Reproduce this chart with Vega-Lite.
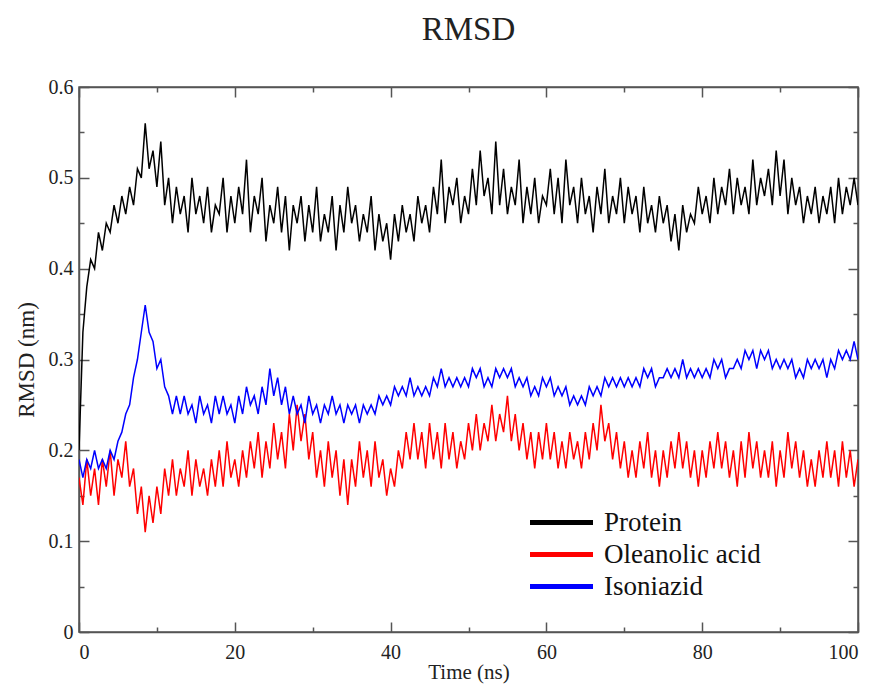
{
  "$schema": "https://vega.github.io/schema/vega-lite/v6.json",
  "width": 779,
  "height": 545,
  "autosize": {"type": "none"},
  "padding": {"left": 79, "top": 87, "right": 20, "bottom": 53},
  "background": "white",
  "title": {"text": "RMSD", "font": "Liberation Serif", "fontSize": 33, "fontWeight": "normal", "color": "#222", "offset": 30, "anchor": "middle"},
  "config": {"view": {"stroke": "#555", "strokeWidth": 1.5}, "font": "Liberation Serif"},
  "data": {"values": [
    {"t":0,"P":0.20,"O":0.17,"I":0.19},{"t":0.5,"P":0.33,"O":0.14,"I":0.17},{"t":1,"P":0.38,"O":0.19,"I":0.19},{"t":1.5,"P":0.41,"O":0.15,"I":0.18},
    {"t":2,"P":0.40,"O":0.18,"I":0.20},{"t":2.5,"P":0.44,"O":0.14,"I":0.18},{"t":3,"P":0.42,"O":0.19,"I":0.19},{"t":3.5,"P":0.45,"O":0.16,"I":0.18},
    {"t":4,"P":0.44,"O":0.20,"I":0.20},{"t":4.5,"P":0.47,"O":0.15,"I":0.19},{"t":5,"P":0.45,"O":0.19,"I":0.21},{"t":5.5,"P":0.48,"O":0.17,"I":0.22},
    {"t":6,"P":0.46,"O":0.21,"I":0.24},{"t":6.5,"P":0.49,"O":0.16,"I":0.25},{"t":7,"P":0.47,"O":0.18,"I":0.28},{"t":7.5,"P":0.51,"O":0.13,"I":0.30},
    {"t":8,"P":0.50,"O":0.16,"I":0.33},{"t":8.5,"P":0.56,"O":0.11,"I":0.36},{"t":9,"P":0.51,"O":0.15,"I":0.33},{"t":9.5,"P":0.53,"O":0.12,"I":0.32},
    {"t":10,"P":0.49,"O":0.16,"I":0.29},{"t":10.5,"P":0.54,"O":0.13,"I":0.30},{"t":11,"P":0.47,"O":0.18,"I":0.27},{"t":11.5,"P":0.50,"O":0.15,"I":0.26},
    {"t":12,"P":0.45,"O":0.19,"I":0.24},{"t":12.5,"P":0.49,"O":0.15,"I":0.26},{"t":13,"P":0.46,"O":0.18,"I":0.24},{"t":13.5,"P":0.48,"O":0.16,"I":0.26},
    {"t":14,"P":0.44,"O":0.20,"I":0.24},{"t":14.5,"P":0.50,"O":0.15,"I":0.25},{"t":15,"P":0.46,"O":0.19,"I":0.23},{"t":15.5,"P":0.48,"O":0.16,"I":0.26},
    {"t":16,"P":0.45,"O":0.18,"I":0.24},{"t":16.5,"P":0.49,"O":0.15,"I":0.25},{"t":17,"P":0.44,"O":0.19,"I":0.23},{"t":17.5,"P":0.47,"O":0.16,"I":0.26},
    {"t":18,"P":0.46,"O":0.20,"I":0.24},{"t":18.5,"P":0.50,"O":0.16,"I":0.26},{"t":19,"P":0.44,"O":0.21,"I":0.24},{"t":19.5,"P":0.48,"O":0.17,"I":0.25},
    {"t":20,"P":0.45,"O":0.19,"I":0.23},{"t":20.5,"P":0.49,"O":0.16,"I":0.26},{"t":21,"P":0.46,"O":0.20,"I":0.24},{"t":21.5,"P":0.52,"O":0.17,"I":0.27},
    {"t":22,"P":0.44,"O":0.21,"I":0.25},{"t":22.5,"P":0.48,"O":0.18,"I":0.26},{"t":23,"P":0.46,"O":0.22,"I":0.24},{"t":23.5,"P":0.50,"O":0.17,"I":0.27},
    {"t":24,"P":0.43,"O":0.21,"I":0.25},{"t":24.5,"P":0.47,"O":0.18,"I":0.29},{"t":25,"P":0.45,"O":0.23,"I":0.26},{"t":25.5,"P":0.49,"O":0.19,"I":0.28},
    {"t":26,"P":0.44,"O":0.22,"I":0.25},{"t":26.5,"P":0.48,"O":0.18,"I":0.27},{"t":27,"P":0.42,"O":0.24,"I":0.24},{"t":27.5,"P":0.47,"O":0.20,"I":0.26},
    {"t":28,"P":0.45,"O":0.25,"I":0.24},{"t":28.5,"P":0.48,"O":0.21,"I":0.25},{"t":29,"P":0.43,"O":0.24,"I":0.23},{"t":29.5,"P":0.47,"O":0.19,"I":0.26},
    {"t":30,"P":0.44,"O":0.22,"I":0.24},{"t":30.5,"P":0.49,"O":0.17,"I":0.25},{"t":31,"P":0.43,"O":0.20,"I":0.23},{"t":31.5,"P":0.46,"O":0.16,"I":0.25},
    {"t":32,"P":0.44,"O":0.21,"I":0.24},{"t":32.5,"P":0.48,"O":0.17,"I":0.26},{"t":33,"P":0.42,"O":0.20,"I":0.24},{"t":33.5,"P":0.47,"O":0.15,"I":0.25},
    {"t":34,"P":0.44,"O":0.19,"I":0.23},{"t":34.5,"P":0.49,"O":0.14,"I":0.25},{"t":35,"P":0.45,"O":0.19,"I":0.24},{"t":35.5,"P":0.47,"O":0.16,"I":0.25},
    {"t":36,"P":0.43,"O":0.21,"I":0.23},{"t":36.5,"P":0.46,"O":0.17,"I":0.25},{"t":37,"P":0.44,"O":0.20,"I":0.24},{"t":37.5,"P":0.48,"O":0.16,"I":0.25},
    {"t":38,"P":0.42,"O":0.21,"I":0.24},{"t":38.5,"P":0.46,"O":0.17,"I":0.26},{"t":39,"P":0.43,"O":0.19,"I":0.25},{"t":39.5,"P":0.45,"O":0.15,"I":0.26},
    {"t":40,"P":0.41,"O":0.18,"I":0.25},{"t":40.5,"P":0.46,"O":0.16,"I":0.27},{"t":41,"P":0.43,"O":0.20,"I":0.26},{"t":41.5,"P":0.47,"O":0.18,"I":0.27},
    {"t":42,"P":0.44,"O":0.22,"I":0.26},{"t":42.5,"P":0.46,"O":0.19,"I":0.28},{"t":43,"P":0.43,"O":0.23,"I":0.26},{"t":43.5,"P":0.48,"O":0.19,"I":0.27},
    {"t":44,"P":0.45,"O":0.22,"I":0.26},{"t":44.5,"P":0.47,"O":0.18,"I":0.27},{"t":45,"P":0.44,"O":0.23,"I":0.26},{"t":45.5,"P":0.49,"O":0.19,"I":0.28},
    {"t":46,"P":0.46,"O":0.22,"I":0.27},{"t":46.5,"P":0.52,"O":0.18,"I":0.29},{"t":47,"P":0.45,"O":0.23,"I":0.27},{"t":47.5,"P":0.49,"O":0.19,"I":0.28},
    {"t":48,"P":0.47,"O":0.22,"I":0.27},{"t":48.5,"P":0.50,"O":0.18,"I":0.28},{"t":49,"P":0.45,"O":0.21,"I":0.27},{"t":49.5,"P":0.48,"O":0.19,"I":0.28},
    {"t":50,"P":0.46,"O":0.23,"I":0.27},{"t":50.5,"P":0.51,"O":0.20,"I":0.29},{"t":51,"P":0.47,"O":0.24,"I":0.28},{"t":51.5,"P":0.53,"O":0.20,"I":0.29},
    {"t":52,"P":0.48,"O":0.23,"I":0.27},{"t":52.5,"P":0.50,"O":0.21,"I":0.28},{"t":53,"P":0.46,"O":0.25,"I":0.27},{"t":53.5,"P":0.54,"O":0.21,"I":0.29},
    {"t":54,"P":0.47,"O":0.24,"I":0.28},{"t":54.5,"P":0.51,"O":0.22,"I":0.29},{"t":55,"P":0.46,"O":0.26,"I":0.28},{"t":55.5,"P":0.49,"O":0.21,"I":0.29},
    {"t":56,"P":0.47,"O":0.24,"I":0.27},{"t":56.5,"P":0.52,"O":0.20,"I":0.28},{"t":57,"P":0.45,"O":0.23,"I":0.27},{"t":57.5,"P":0.49,"O":0.19,"I":0.28},
    {"t":58,"P":0.46,"O":0.22,"I":0.26},{"t":58.5,"P":0.50,"O":0.18,"I":0.27},{"t":59,"P":0.45,"O":0.22,"I":0.26},{"t":59.5,"P":0.48,"O":0.19,"I":0.28},
    {"t":60,"P":0.47,"O":0.23,"I":0.27},{"t":60.5,"P":0.51,"O":0.19,"I":0.28},{"t":61,"P":0.46,"O":0.22,"I":0.26},{"t":61.5,"P":0.50,"O":0.18,"I":0.27},
    {"t":62,"P":0.45,"O":0.21,"I":0.26},{"t":62.5,"P":0.52,"O":0.18,"I":0.27},{"t":63,"P":0.47,"O":0.22,"I":0.25},{"t":63.5,"P":0.49,"O":0.19,"I":0.26},
    {"t":64,"P":0.45,"O":0.21,"I":0.25},{"t":64.5,"P":0.50,"O":0.18,"I":0.26},{"t":65,"P":0.46,"O":0.22,"I":0.25},{"t":65.5,"P":0.48,"O":0.19,"I":0.27},
    {"t":66,"P":0.44,"O":0.23,"I":0.26},{"t":66.5,"P":0.49,"O":0.20,"I":0.27},{"t":67,"P":0.46,"O":0.25,"I":0.26},{"t":67.5,"P":0.51,"O":0.21,"I":0.28},
    {"t":68,"P":0.45,"O":0.23,"I":0.27},{"t":68.5,"P":0.48,"O":0.19,"I":0.28},{"t":69,"P":0.46,"O":0.22,"I":0.27},{"t":69.5,"P":0.50,"O":0.18,"I":0.28},
    {"t":70,"P":0.45,"O":0.21,"I":0.27},{"t":70.5,"P":0.49,"O":0.17,"I":0.28},{"t":71,"P":0.46,"O":0.20,"I":0.27},{"t":71.5,"P":0.48,"O":0.17,"I":0.28},
    {"t":72,"P":0.44,"O":0.21,"I":0.27},{"t":72.5,"P":0.49,"O":0.18,"I":0.29},{"t":73,"P":0.45,"O":0.22,"I":0.28},{"t":73.5,"P":0.47,"O":0.17,"I":0.29},
    {"t":74,"P":0.44,"O":0.20,"I":0.27},{"t":74.5,"P":0.48,"O":0.16,"I":0.28},{"t":75,"P":0.45,"O":0.20,"I":0.28},{"t":75.5,"P":0.47,"O":0.17,"I":0.29},
    {"t":76,"P":0.43,"O":0.21,"I":0.28},{"t":76.5,"P":0.46,"O":0.18,"I":0.29},{"t":77,"P":0.42,"O":0.22,"I":0.28},{"t":77.5,"P":0.47,"O":0.18,"I":0.30},
    {"t":78,"P":0.44,"O":0.21,"I":0.28},{"t":78.5,"P":0.46,"O":0.17,"I":0.29},{"t":79,"P":0.45,"O":0.20,"I":0.28},{"t":79.5,"P":0.49,"O":0.16,"I":0.29},
    {"t":80,"P":0.46,"O":0.20,"I":0.28},{"t":80.5,"P":0.48,"O":0.17,"I":0.29},{"t":81,"P":0.45,"O":0.21,"I":0.28},{"t":81.5,"P":0.50,"O":0.18,"I":0.30},
    {"t":82,"P":0.46,"O":0.22,"I":0.29},{"t":82.5,"P":0.49,"O":0.18,"I":0.30},{"t":83,"P":0.47,"O":0.21,"I":0.28},{"t":83.5,"P":0.51,"O":0.17,"I":0.29},
    {"t":84,"P":0.46,"O":0.20,"I":0.29},{"t":84.5,"P":0.50,"O":0.16,"I":0.30},{"t":85,"P":0.47,"O":0.21,"I":0.29},{"t":85.5,"P":0.49,"O":0.17,"I":0.31},
    {"t":86,"P":0.46,"O":0.22,"I":0.30},{"t":86.5,"P":0.52,"O":0.18,"I":0.31},{"t":87,"P":0.47,"O":0.21,"I":0.29},{"t":87.5,"P":0.50,"O":0.17,"I":0.31},
    {"t":88,"P":0.48,"O":0.20,"I":0.30},{"t":88.5,"P":0.51,"O":0.17,"I":0.31},{"t":89,"P":0.47,"O":0.21,"I":0.29},{"t":89.5,"P":0.53,"O":0.16,"I":0.30},
    {"t":90,"P":0.48,"O":0.20,"I":0.29},{"t":90.5,"P":0.52,"O":0.17,"I":0.30},{"t":91,"P":0.46,"O":0.22,"I":0.29},{"t":91.5,"P":0.50,"O":0.18,"I":0.30},
    {"t":92,"P":0.47,"O":0.21,"I":0.28},{"t":92.5,"P":0.49,"O":0.17,"I":0.29},{"t":93,"P":0.45,"O":0.20,"I":0.28},{"t":93.5,"P":0.48,"O":0.16,"I":0.30},
    {"t":94,"P":0.46,"O":0.19,"I":0.29},{"t":94.5,"P":0.49,"O":0.16,"I":0.30},{"t":95,"P":0.45,"O":0.20,"I":0.29},{"t":95.5,"P":0.48,"O":0.17,"I":0.30},
    {"t":96,"P":0.46,"O":0.21,"I":0.28},{"t":96.5,"P":0.49,"O":0.17,"I":0.30},{"t":97,"P":0.45,"O":0.20,"I":0.29},{"t":97.5,"P":0.50,"O":0.16,"I":0.31},
    {"t":98,"P":0.46,"O":0.21,"I":0.30},{"t":98.5,"P":0.49,"O":0.17,"I":0.31},{"t":99,"P":0.47,"O":0.20,"I":0.30},{"t":99.5,"P":0.50,"O":0.16,"I":0.32},
    {"t":100,"P":0.47,"O":0.19,"I":0.30}
  ]},
  "resolve": {"axis": {"x": "independent", "y": "independent"}},
  "layer": [
    {
      "mark": {"type": "line", "strokeWidth": 1.5, "clip": true},
      "encoding": {
        "x": {"field": "t", "type": "quantitative", "scale": {"domain": [0, 100], "nice": false},
          "axis": {"orient": "bottom", "values": [0,10,20,30,40,50,60,70,80,90,100], "grid": false,
            "labelExpr": "datum.value % 20 === 0 ? datum.label : ''",
            "tickSize": {"condition": {"test": "datum.value % 20 === 0", "value": -10}, "value": -5},
            "tickColor": "#555", "tickWidth": 1.5, "domainColor": "#555", "domainWidth": 1.5,
            "labelFont": "Liberation Serif", "labelFontSize": 20, "labelColor": "#222", "labelPadding": 20,
            "title": "Time (ns)", "titleFont": "Liberation Serif", "titleFontSize": 21, "titleFontWeight": "normal", "titleColor": "#222", "titlePadding": -1}},
        "y": {"field": "P", "type": "quantitative", "scale": {"domain": [0, 0.6], "nice": false},
          "axis": {"orient": "left", "values": [0,0.05,0.1,0.15,0.2,0.25,0.3,0.35,0.4,0.45,0.5,0.55,0.6], "grid": false,
            "labelExpr": "abs(datum.value*10 - round(datum.value*10)) < 0.01 ? format(datum.value, '~g') : ''",
            "tickSize": {"condition": {"test": "abs(datum.value*10 - round(datum.value*10)) < 0.01", "value": -10}, "value": -5},
            "tickColor": "#555", "tickWidth": 1.5, "domainColor": "#555", "domainWidth": 1.5,
            "labelFont": "Liberation Serif", "labelFontSize": 20, "labelColor": "#222", "labelPadding": 16,
            "title": "RMSD (nm)", "titleFont": "Liberation Serif", "titleFontSize": 23, "titleFontWeight": "normal", "titleColor": "#222", "titlePadding": 10}},
        "color": {"datum": "Protein", "type": "nominal",
          "scale": {"domain": ["Protein", "Oleanolic acid", "Isoniazid"], "range": ["#000000", "#ff0000", "#0000ff"]},
          "legend": {"orient": "none", "legendX": 469, "legendY": 422, "direction": "vertical", "title": null,
            "symbolType": "M-3,0H3", "symbolSize": 441, "symbolStrokeWidth": 5, "symbolFillColor": "transparent", "rowPadding": 4,
            "labelFont": "Liberation Serif", "labelFontSize": 27, "labelColor": "#111", "labelOffset": 29}}
      }
    },
    {
      "mark": {"type": "line", "strokeWidth": 1.5, "clip": true},
      "encoding": {
        "x": {"field": "t", "type": "quantitative",
          "axis": {"orient": "top", "values": [0,10,20,30,40,50,60,70,80,90,100], "grid": false, "labels": false, "title": null,
            "tickSize": {"condition": {"test": "datum.value % 20 === 0", "value": -10}, "value": -5},
            "tickColor": "#555", "tickWidth": 1.5, "domainColor": "#555", "domainWidth": 1.5}},
        "y": {"field": "O", "type": "quantitative",
          "axis": {"orient": "right", "values": [0,0.05,0.1,0.15,0.2,0.25,0.3,0.35,0.4,0.45,0.5,0.55,0.6], "grid": false, "labels": false, "title": null,
            "tickSize": {"condition": {"test": "abs(datum.value*10 - round(datum.value*10)) < 0.01", "value": -10}, "value": -5},
            "tickColor": "#555", "tickWidth": 1.5, "domainColor": "#555", "domainWidth": 1.5}},
        "color": {"datum": "Oleanolic acid", "type": "nominal"}
      }
    },
    {
      "mark": {"type": "line", "strokeWidth": 1.5, "clip": true},
      "encoding": {
        "x": {"field": "t", "type": "quantitative", "axis": null},
        "y": {"field": "I", "type": "quantitative", "axis": null},
        "color": {"datum": "Isoniazid", "type": "nominal"}
      }
    }
  ]
}
